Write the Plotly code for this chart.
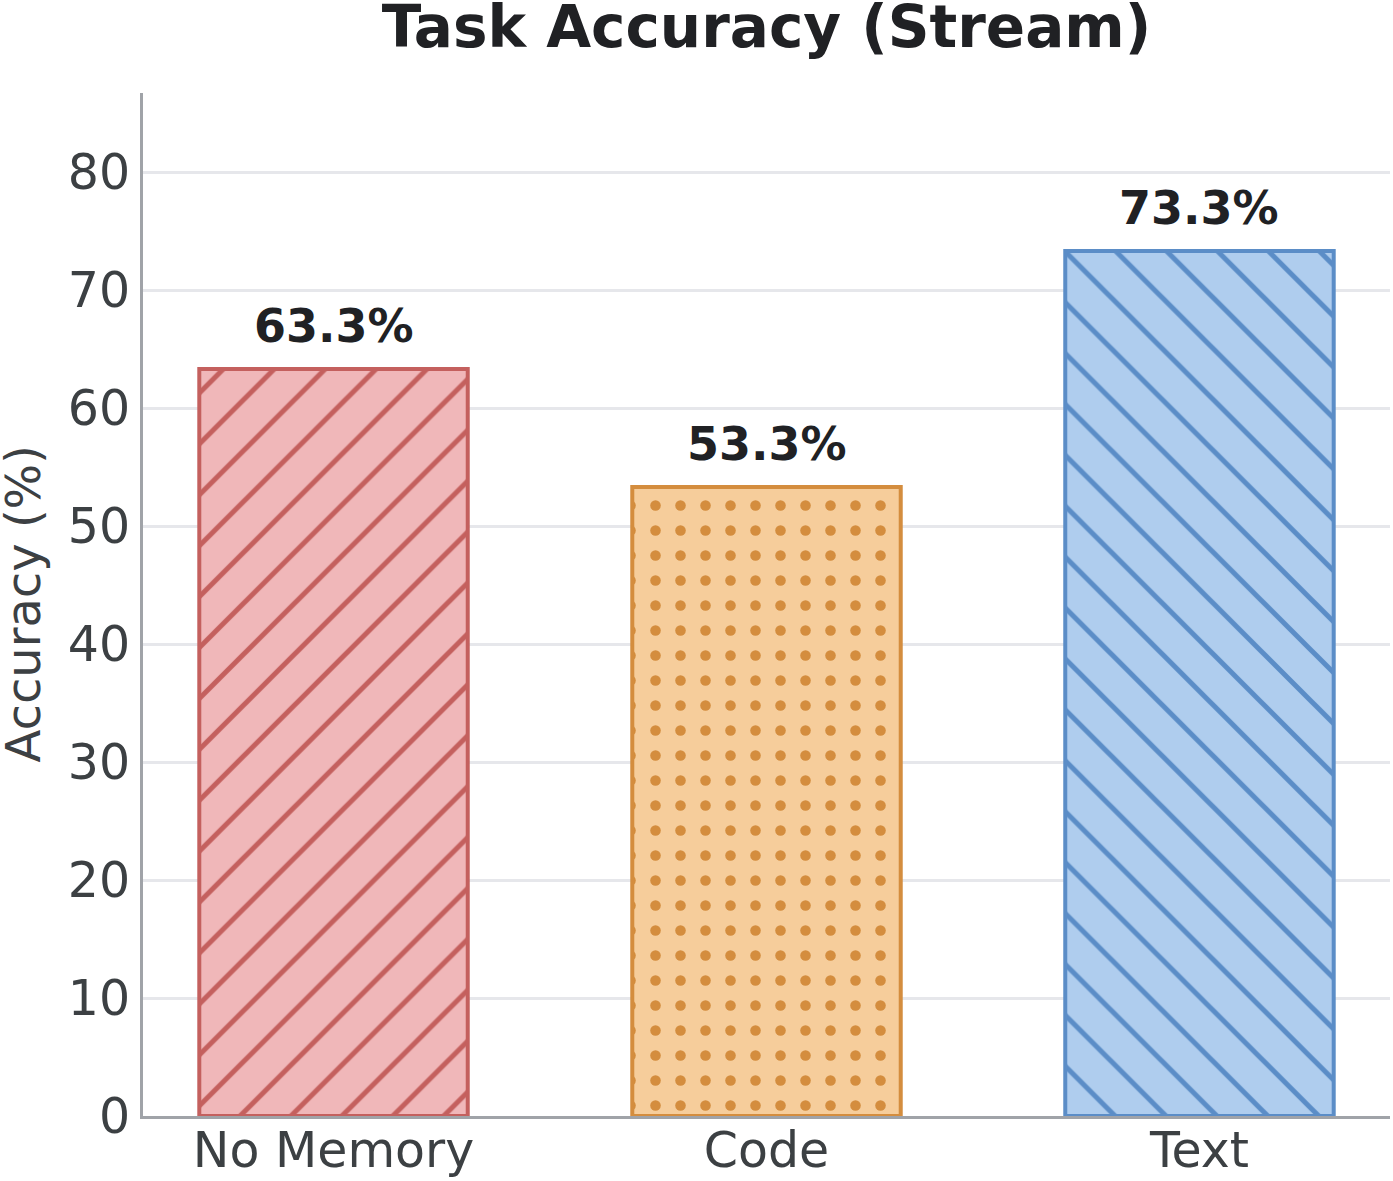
import plotly.graph_objects as go

categories = ["No Memory", "Code", "Text"]
accuracy = [63.3, 53.3, 73.3]
value_labels = ["63.3%", "53.3%", "73.3%"]
y_ticks = [0, 10, 20, 30, 40, 50, 60, 70, 80]

fill_colors = ["#F0B7B9", "#F6CD9B", "#AFCDEE"]
edge_colors = ["#C4605E", "#D48D3E", "#5B8DC7"]
shapes = ["/", ".", "\\"]
sizes = [36, 25, 36]
solidities = [0.14, 0.14, 0.14]

FONT = "DejaVu Sans"

fig = go.Figure()
for i, cat in enumerate(categories):
    fig.add_trace(go.Bar(
        x=[cat], y=[accuracy[i]],
        width=0.62,
        marker=dict(
            color=fill_colors[i],
            line=dict(color=edge_colors[i], width=4),
            pattern=dict(shape=shapes[i], fgcolor=edge_colors[i], bgcolor=fill_colors[i],
                         size=sizes[i], solidity=solidities[i], fillmode="replace"),
        ),
        showlegend=False,
        hoverinfo="skip",
    ))
    fig.add_annotation(
        x=cat, y=accuracy[i], text="<b>%s</b>" % value_labels[i],
        showarrow=False, yanchor="bottom", yshift=14,
        font=dict(family=FONT, size=46, color="#202124"),
    )

fig.add_annotation(
    xref="paper", yref="paper", x=(22 - 143) / (1390 - 143), y=0.5,
    text="Accuracy (%)", textangle=-90, showarrow=False,
    xanchor="center", yanchor="middle",
    font=dict(family=FONT, size=48, color="#3C4043"),
)

fig.update_layout(
    width=1393, height=1181,
    margin=dict(l=143, r=3, t=93, b=65, autoexpand=False),
    plot_bgcolor="white", paper_bgcolor="white",
    title=dict(text="<b>Task Accuracy (Stream)</b>", x=(143 + 1390) / 2 / 1393, xanchor="center",
               y=1 - 27 / 1181, yanchor="middle",
               font=dict(family=FONT, size=58, color="#202124")),
    font=dict(family=FONT, color="#3C4043"),
)
fig.update_xaxes(
    range=[-0.44, 2.44], automargin=False,
    showline=True, linecolor="#A0A3A8", linewidth=3,
    ticks="", showgrid=False, ticklabelstandoff=-11,
    tickfont=dict(family=FONT, size=49, color="#3C4043"),
)
fig.update_yaxes(
    range=[0, 86.7], automargin=False,
    tickvals=y_ticks,
    showline=True, linecolor="#A0A3A8", linewidth=3,
    ticks="", ticklabelstandoff=0,
    showgrid=True, gridcolor="#E6E7EB", gridwidth=3,
    zeroline=False,
    tickfont=dict(family=FONT, size=49, color="#3C4043"),
)

fig.write_html("out.html")
